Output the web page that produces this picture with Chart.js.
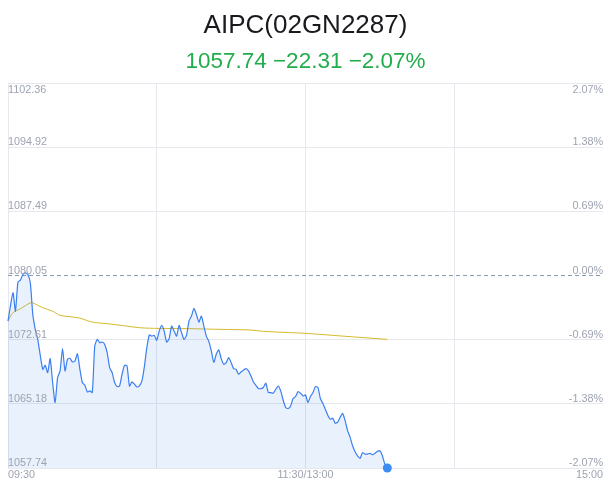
<!DOCTYPE html>
<html>
<head>
<meta charset="utf-8">
<script src="https://cdn.jsdelivr.net/npm/chart.js@4.4.1/dist/chart.umd.min.js"></script>
<style>
  html, body { margin: 0; padding: 0; background: #fff; }
  #wrap { width: 611px; height: 492px; }
</style>
</head>
<body>
<div id="wrap"><canvas id="myChart"></canvas></div>
<script>
const prevClose = 1080.05;

// minute offsets from 09:30 (lunch break removed) and last price
const minutes = [0, 2, 3, 4, 5, 6, 7, 8, 9, 10, 11, 12, 14, 15, 16, 17, 18, 19, 20, 21,
  22, 23, 24, 25, 26, 27, 28, 29, 30, 31, 32, 33, 34, 35, 36, 37, 38, 39, 40, 41,
  42, 43, 44, 45, 46, 47, 48, 49, 50, 51, 52, 53, 54, 55, 56, 57, 58, 59, 60, 61,
  62, 63, 64, 65, 66, 67, 68, 69, 70, 71, 72, 73, 74, 75, 76, 77, 78, 79, 80, 81,
  82, 83, 84, 85, 86, 87, 88, 89, 90, 91, 92, 93, 94, 96, 97, 98, 99, 100, 101, 102,
  103, 104, 105, 106, 107, 108, 109, 110, 111, 112, 113, 114, 115, 116, 117, 118, 119, 120, 121, 122,
  123, 124, 125, 126, 127, 128, 129, 130, 131, 132, 133, 134, 135, 136, 137, 138, 139, 140, 141, 142,
  143, 144, 145, 146, 147, 148, 149, 150, 151, 152, 153];
const prices = [1074.77, 1078.05, 1075.92, 1079.28, 1079.51, 1080.17, 1080.36, 1080.17, 1079.21, 1075.54,
  1073.81, 1072.65, 1069.18, 1069.65, 1068.80, 1070.42, 1067.65, 1065.33, 1068.22, 1068.99,
  1071.58, 1068.99, 1070.34, 1070.46, 1070.03, 1070.14, 1070.98, 1069.18, 1067.65, 1067.33,
  1066.56, 1066.68, 1066.49, 1071.88, 1072.65, 1072.27, 1072.34, 1072.07, 1071.11, 1069.38,
  1068.80, 1067.65, 1067.18, 1067.25, 1068.61, 1069.65, 1069.57, 1067.25, 1067.72, 1067.45,
  1067.14, 1067.25, 1067.83, 1069.47, 1071.69, 1073.17, 1073.03, 1073.11, 1072.54, 1073.61,
  1074.27, 1073.61, 1072.34, 1072.73, 1074.19, 1073.61, 1073.03, 1074.27, 1073.43, 1072.65,
  1073.11, 1074.77, 1075.35, 1076.24, 1075.54, 1074.65, 1075.35, 1074.19, 1073.03, 1072.42,
  1071.32, 1069.99, 1070.92, 1071.44, 1070.42, 1069.76, 1069.96, 1070.54, 1069.96, 1069.26,
  1069.18, 1068.61, 1068.87, 1069.26, 1068.99, 1068.41, 1067.72, 1067.33, 1066.95, 1066.95,
  1067.07, 1067.57, 1066.49, 1066.49, 1066.41, 1066.87, 1067.25, 1066.68, 1065.60, 1064.76,
  1064.64, 1064.94, 1065.80, 1066.03, 1066.61, 1066.41, 1066.10, 1066.21, 1065.33, 1066.03,
  1066.49, 1067.18, 1067.07, 1065.80, 1065.22, 1064.56, 1063.87, 1063.40, 1063.52, 1062.94,
  1063.06, 1063.64, 1064.06, 1063.21, 1062.05, 1061.29, 1060.32, 1059.62, 1059.16, 1058.86,
  1059.53, 1059.36, 1059.36, 1059.44, 1059.28, 1059.44, 1059.67, 1059.74, 1059.16, 1058.20,
  1057.74];

// average price line
const avgMinutes = [0, 2, 5, 9, 10, 14, 18, 21, 25, 29, 34, 40, 48, 53, 61, 73, 86, 98, 103, 114, 120, 135, 153];
const avgPrices = [1074.77, 1075.74, 1076.20, 1076.89, 1076.89, 1076.32, 1075.92, 1075.43, 1075.28, 1075.11,
  1074.65, 1074.47, 1074.19, 1074.00, 1073.92, 1073.89, 1073.81, 1073.73, 1073.58, 1073.43,
  1073.35, 1073.03, 1072.65];

const priceTicks = [1102.36, 1094.92, 1087.49, 1080.05, 1072.61, 1065.18, 1057.74];
const pctTicks = ['2.07%', '1.38%', '0.69%', '0.00%', '-0.69%', '-1.38%', '-2.07%'];
const timeTicks = [0, 60, 120, 180, 240];
const timeLabels = ['09:30', '', '11:30/13:00', '', '15:00'];

const labelFont = '"Liberation Sans", Arial, sans-serif';
const labelColor = '#9ea3b1';
const gridColor = '#e6e8ee';

// price / percent labels sit inside the plot, just above each grid line
const axisLabels = {
  id: 'axisLabels',
  afterDraw(chart) {
    const {ctx, chartArea, scales} = chart;
    ctx.save();
    ctx.font = '10.8px ' + labelFont;
    ctx.fillStyle = labelColor;
    ctx.textBaseline = 'alphabetic';
    priceTicks.forEach((v, i) => {
      const py = scales.y.getPixelForValue(v);
      const by = i === 0 ? py + 9.5 : py - 2;
      ctx.textAlign = 'left';
      ctx.fillText(v.toFixed(2), chartArea.left, by);
      ctx.textAlign = 'right';
      ctx.fillText(pctTicks[i], chartArea.right, by);
    });
    ctx.restore();
  }
};

const last = minutes.length - 1;

const config = {
  type: 'line',
  data: {
    datasets: [
      {
        label: 'price',
        data: minutes.map((m, i) => ({x: m, y: prices[i]})),
        borderColor: '#3b7ff0',
        borderWidth: 1.2,
        backgroundColor: 'rgba(59,127,240,0.11)',
        fill: 'start',
        tension: 0.2,
        clip: false,
        pointRadius: ctx => ctx.dataIndex === last ? 4.5 : 0,
        pointBackgroundColor: '#3a8ef3',
        pointBorderWidth: 0,
      },
      {
        label: 'avg',
        data: avgMinutes.map((m, i) => ({x: m, y: avgPrices[i]})),
        borderColor: '#d6b92a',
        borderWidth: 1,
        pointRadius: 0,
        fill: false,
        tension: 0.3,
      },
      {
        label: 'prev close',
        data: [{x: 0, y: prevClose}, {x: 240, y: prevClose}],
        borderColor: '#8a99b6',
        borderWidth: 1,
        borderDash: [4, 3],
        pointRadius: 0,
        fill: false,
      }
    ]
  },
  options: {
    responsive: true,
    maintainAspectRatio: false,
    animation: false,
    layout: {
      padding: {left: 8, right: 8, bottom: 9}
    },
    plugins: {
      legend: {display: false},
      tooltip: {enabled: false},
      title: {
        display: true,
        text: 'AIPC(02GN2287)',
        color: '#1a1a1e',
        font: {size: 26, family: labelFont, weight: 'normal'},
        padding: {top: 10.4, bottom: 6.9}
      },
      subtitle: {
        display: true,
        text: '1057.74 \u221222.31 \u22122.07%',
        color: '#22ad4c',
        font: {size: 22.5, family: labelFont, weight: 'normal'},
        padding: {top: 0, bottom: 7.5}
      }
    },
    scales: {
      x: {
        type: 'linear',
        min: 0,
        max: 240,
        afterBuildTicks: scale => { scale.ticks = timeTicks.map(v => ({value: v})); },
        ticks: {
          callback: (v, i) => timeLabels[i],
          align: 'inner',
          autoSkip: false,
          maxRotation: 0,
          padding: 1,
          color: labelColor,
          font: {size: 10.8, family: labelFont}
        },
        grid: {
          color: ctx => ctx.tick && ctx.tick.value === 240 ? 'rgba(0,0,0,0)' : gridColor,
          drawTicks: false
        },
        border: {color: gridColor}
      },
      y: {
        min: 1057.74,
        max: 1102.36,
        afterBuildTicks: scale => { scale.ticks = priceTicks.map(v => ({value: v})); },
        ticks: {display: false},
        grid: {
          color: ctx => ctx.tick && ctx.tick.value === prevClose ? 'rgba(0,0,0,0)' : gridColor,
          drawTicks: false
        },
        border: {color: gridColor}
      }
    }
  },
  plugins: [axisLabels]
};

new Chart(document.getElementById('myChart').getContext('2d'), config);
</script>
</body>
</html>
